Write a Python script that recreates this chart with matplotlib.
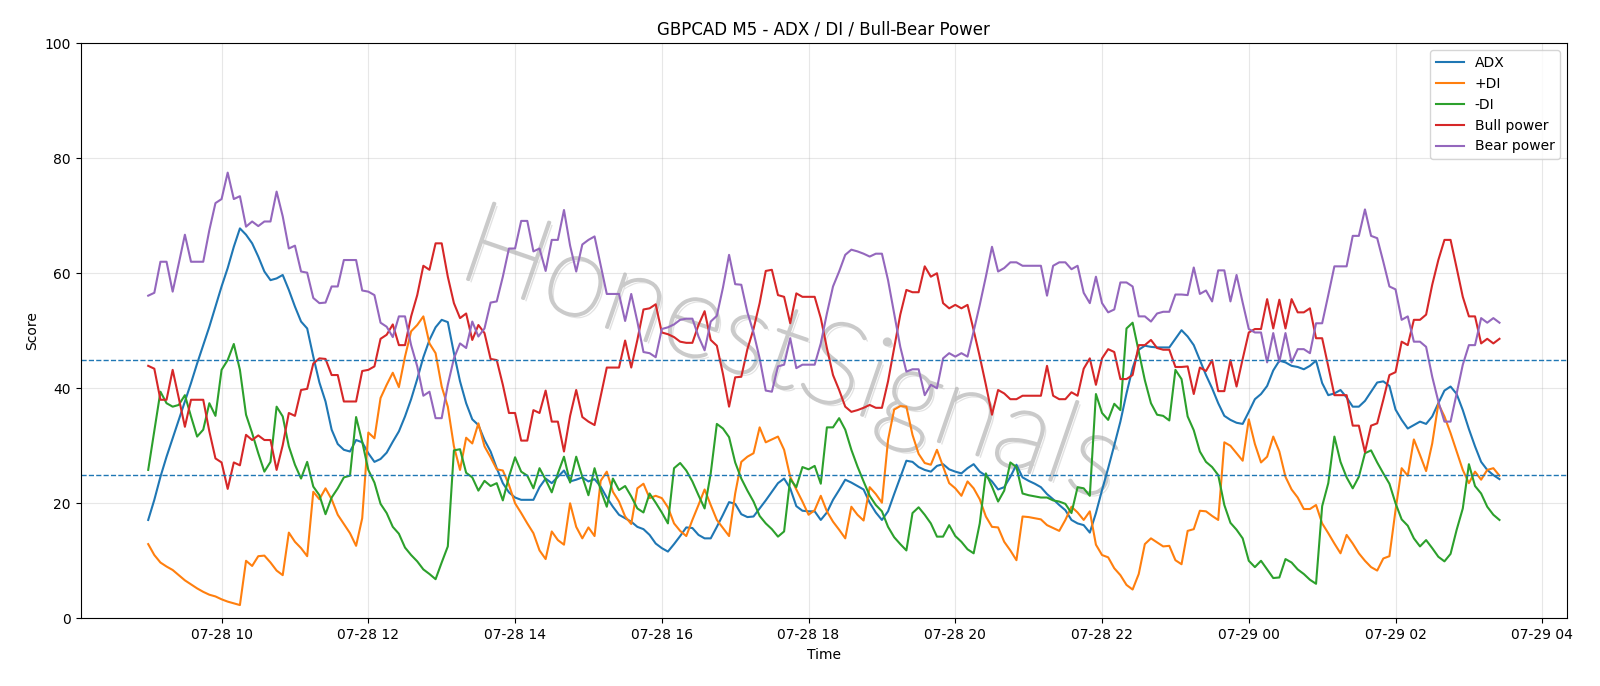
import pandas as pd
import numpy as np
import matplotlib
matplotlib.use("Agg")
import matplotlib.pyplot as plt
import matplotlib.patheffects as pe

# -----------------------------
# 1. Data (5 minute bars)
# -----------------------------
start_time = "2025-07-28 09:00"

adx = [
    17.1, 20.6, 24.6, 28.1, 31.3, 34.5, 37.7, 40.9, 44.3, 47.5,
    50.7, 54.2, 57.7, 60.9, 64.6, 67.8, 66.7, 65.2, 62.9, 60.3,
    58.8, 59.1, 59.7, 57.1, 54.2, 51.6, 50.4, 45.5, 41.0, 37.7,
    32.8, 30.3, 29.3, 29.0, 31.0, 30.6, 28.7, 27.2, 27.7, 28.8,
    30.7, 32.5, 35.1, 38.1, 41.6, 45.4, 48.4, 50.6, 51.9, 51.5,
    46.1, 41.2, 37.4, 34.6, 33.6, 31.0, 29.0, 26.1, 23.5, 21.9,
    21.0, 20.6, 20.6, 20.6, 22.8, 24.3, 23.5, 24.6, 25.7, 23.8,
    24.1, 24.5, 23.8, 24.2, 22.9, 21.0, 19.4, 18.0, 17.4, 16.8,
    15.9, 15.5, 14.5, 13.0, 12.2, 11.6, 12.9, 14.3, 15.8, 15.7,
    14.5, 13.9, 13.9, 15.9, 18.0, 20.2, 19.9, 18.1, 17.6, 17.7,
    19.1, 20.5, 22.0, 23.5, 24.3, 22.6, 19.5, 18.7, 18.6, 18.6,
    17.1, 18.4, 20.6, 22.3, 24.1, 23.6, 23.0, 22.4, 20.1, 18.4,
    17.1, 18.6, 21.6, 24.5, 27.4, 27.2, 26.3, 25.8, 25.5, 26.5,
    26.8, 25.9, 25.5, 25.2, 26.1, 26.8, 25.5, 24.8, 23.8, 22.4,
    22.8, 24.6, 26.7, 24.5, 23.9, 23.4, 22.8, 21.6, 20.7, 19.7,
    18.8, 17.1, 16.5, 16.2, 14.9, 18.3, 22.3, 26.1, 30.1, 34.2,
    39.1, 43.5, 46.7, 47.4, 47.2, 47.1, 47.1, 47.1, 48.6, 50.1,
    49.0, 47.5, 44.9, 42.3, 40.0, 37.4, 35.2, 34.5, 34.0, 33.8,
    35.9, 38.1, 39.0, 40.4, 43.1, 44.8, 44.5, 43.9, 43.7, 43.3,
    43.9, 44.8, 40.9, 38.8, 39.1, 39.7, 38.4, 36.8, 36.8, 37.8,
    39.4, 41.0, 41.2, 40.4, 36.3, 34.5, 33.0, 33.6, 34.2, 33.8,
    35.1, 37.4, 39.6, 40.3, 39.0, 36.2, 32.9, 29.9, 27.2, 25.8,
    24.9, 24.2,
]

plus_di = [
    12.9, 11.0, 9.7, 9.0, 8.4, 7.5, 6.6, 5.9, 5.2, 4.6,
    4.1, 3.8, 3.3, 2.9, 2.6, 2.3, 10.0, 9.1, 10.8, 10.9,
    9.7, 8.3, 7.5, 14.9, 13.3, 12.2, 10.8, 22.0, 20.7, 22.6,
    20.7, 18.0, 16.4, 14.8, 12.6, 17.4, 32.3, 31.3, 38.3, 40.6,
    42.7, 40.2, 45.5, 49.9, 51.0, 52.5, 47.8, 46.1, 40.3, 36.8,
    29.9, 25.8, 31.4, 30.4, 33.9, 29.9, 28.0, 25.9, 25.7, 23.2,
    20.0, 18.3, 16.5, 14.8, 11.8, 10.3, 15.1, 13.6, 12.8, 20.0,
    15.9, 13.9, 15.8, 14.3, 23.9, 25.5, 22.0, 20.3, 17.7, 16.4,
    22.6, 23.4, 20.9, 21.3, 20.9, 19.3, 16.5, 15.2, 14.3, 17.1,
    19.7, 22.4, 19.7, 17.1, 15.7, 14.3, 21.7, 27.2, 28.1, 28.7,
    33.2, 30.6, 31.1, 31.6, 29.3, 24.6, 22.4, 20.3, 18.0, 18.8,
    21.3, 18.6, 16.8, 15.4, 13.9, 19.4, 18.0, 17.0, 22.8, 21.6,
    20.1, 31.0, 36.3, 36.9, 36.8, 31.9, 28.6, 27.0, 26.7, 29.3,
    26.4, 23.5, 22.6, 21.3, 23.8, 22.6, 20.7, 17.7, 15.9, 15.8,
    13.3, 11.8, 10.1, 17.7, 17.6, 17.4, 17.2, 16.2, 15.7, 15.2,
    17.1, 19.4, 18.4, 17.1, 18.6, 12.8, 11.0, 10.6, 8.7, 7.5,
    5.8, 5.0, 7.7, 12.9, 13.9, 13.2, 12.5, 12.6, 10.1, 9.4,
    15.2, 15.5, 18.7, 18.6, 17.8, 17.1, 30.6, 30.0, 28.7, 27.4,
    34.6, 30.3, 27.1, 28.1, 31.6, 29.0, 24.6, 22.4, 21.0, 19.0,
    19.0, 19.7, 16.5, 14.8, 13.0, 11.3, 14.5, 13.0, 11.3, 10.0,
    8.9, 8.3, 10.4, 10.8, 18.8, 26.1, 24.8, 31.1, 28.4, 25.6,
    30.4, 37.3, 35.1, 32.2, 29.0, 25.8, 23.5, 25.5, 24.1, 25.8,
    26.1, 24.8,
]

minus_di = [
    25.8, 32.6, 39.4, 37.4, 36.8, 37.1, 38.8, 35.1, 31.6, 32.8,
    37.4, 35.2, 43.2, 44.9, 47.7, 43.2, 35.4, 32.2, 28.7, 25.5,
    27.2, 36.8, 35.1, 29.9, 26.7, 24.3, 27.2, 22.9, 21.4, 18.1,
    21.0, 22.6, 24.5, 24.8, 35.0, 30.7, 25.8, 23.6, 19.9, 18.3,
    15.9, 14.7, 12.3, 11.0, 9.9, 8.5, 7.7, 6.8, 9.7, 12.5,
    29.2, 29.4, 25.3, 24.5, 22.2, 23.9, 23.0, 23.5, 20.5, 24.6,
    28.0, 25.5, 24.8, 22.6, 26.1, 24.1, 21.9, 25.2, 28.1, 23.6,
    28.1, 24.6, 21.4, 26.1, 22.3, 19.4, 24.3, 22.3, 23.0, 21.2,
    19.1, 18.4, 21.7, 20.1, 18.4, 16.5, 26.1, 27.0, 25.7, 23.8,
    21.4, 19.1, 25.2, 33.8, 33.0, 31.5, 27.1, 24.3, 22.2, 20.3,
    17.8, 16.5, 15.5, 14.2, 15.1, 24.2, 22.8, 26.3, 25.9, 26.5,
    23.4, 33.2, 33.2, 34.8, 32.8, 29.3, 26.4, 23.8, 21.3, 19.7,
    18.6, 15.9, 14.1, 12.9, 11.8, 18.3, 19.3, 18.0, 16.5, 14.2,
    14.2, 16.2, 14.3, 13.3, 12.0, 11.3, 16.5, 25.2, 22.9, 20.3,
    22.2, 27.1, 26.3, 21.7, 21.4, 21.2, 21.0, 21.0, 20.5, 20.3,
    19.9, 18.3, 22.8, 22.6, 21.3, 39.0, 35.7, 34.5, 37.3, 36.2,
    50.4, 51.4, 46.4, 41.4, 37.4, 35.4, 35.2, 34.4, 43.2, 41.6,
    35.1, 32.7, 29.0, 27.2, 26.3, 24.9, 19.7, 16.6, 15.4, 13.9,
    10.0, 8.9, 10.0, 8.5, 7.0, 7.1, 10.3, 9.7, 8.5, 7.7,
    6.7, 6.0, 19.5, 23.5, 31.6, 27.2, 24.5, 22.6, 24.6, 28.7,
    29.2, 27.1, 25.2, 23.4, 20.0, 17.2, 16.1, 13.9, 12.5, 13.6,
    12.2, 10.7, 9.9, 11.2, 15.4, 19.1, 26.8, 23.0, 21.7, 19.4,
    18.0, 17.1,
]

bull_power = [
    43.9, 43.4, 38.0, 38.0, 43.2, 38.3, 33.3, 38.0, 38.0, 38.0,
    32.5, 27.8, 27.1, 22.5, 27.1, 26.6, 31.9, 31.0, 31.8, 31.0,
    31.0, 25.8, 30.1, 35.7, 35.2, 39.7, 39.9, 44.3, 45.2, 45.1,
    42.3, 42.3, 37.7, 37.7, 37.7, 43.0, 43.2, 43.8, 48.6, 49.3,
    51.1, 47.5, 47.5, 52.5, 56.2, 61.3, 60.6, 65.2, 65.2, 59.4,
    54.8, 52.2, 53.0, 48.4, 51.0, 49.6, 45.1, 44.9, 40.6, 35.7,
    35.7, 30.9, 30.9, 36.2, 35.7, 39.6, 34.2, 34.2, 29.0, 35.2,
    39.7, 35.0, 34.2, 33.6, 38.6, 43.6, 43.6, 43.6, 48.3, 43.6,
    48.4, 53.7, 53.9, 54.6, 49.7, 49.4, 48.9, 48.1, 47.9, 47.9,
    51.0, 53.4, 48.4, 47.4, 42.5, 36.8, 41.9, 42.0, 46.8, 50.3,
    54.8, 60.4, 60.6, 56.2, 55.9, 51.3, 56.5, 55.9, 55.9, 55.9,
    52.2, 47.0, 42.3, 39.7, 36.8, 35.9, 36.2, 36.6, 37.1, 36.6,
    36.6, 41.2, 47.0, 52.8, 57.1, 56.7, 56.7, 61.2, 59.4, 60.0,
    54.8, 53.9, 54.5, 53.9, 54.5, 50.1, 45.5, 40.6, 35.4, 39.7,
    39.1, 38.1, 38.1, 38.7, 38.7, 38.7, 38.7, 43.9, 38.7, 38.1,
    38.1, 39.3, 38.7, 43.4, 45.2, 40.6, 45.2, 46.8, 46.3, 41.6,
    41.6, 42.3, 47.5, 47.5, 48.4, 47.0, 46.7, 46.7, 43.7, 43.7,
    43.8, 39.0, 43.6, 43.0, 44.9, 39.5, 39.5, 44.9, 40.3, 45.1,
    49.7, 50.3, 50.3, 55.5, 50.4, 55.4, 50.4, 55.5, 53.2, 53.2,
    53.9, 48.7, 48.7, 43.8, 38.8, 38.8, 38.8, 33.5, 33.5, 28.9,
    33.5, 33.9, 38.0, 42.3, 42.8, 48.1, 47.5, 51.9, 51.9, 52.8,
    58.0, 62.3, 65.8, 65.8, 60.9, 55.9, 52.5, 52.5, 47.8, 48.6,
    47.8, 48.6,
]

bear_power = [
    56.1, 56.6, 62.0, 62.0, 56.8, 61.7, 66.7, 62.0, 62.0, 62.0,
    67.5, 72.2, 72.9, 77.5, 72.9, 73.4, 68.1, 69.0, 68.2, 69.0,
    69.0, 74.2, 69.9, 64.3, 64.8, 60.3, 60.1, 55.7, 54.8, 54.9,
    57.7, 57.7, 62.3, 62.3, 62.3, 57.0, 56.8, 56.2, 51.4, 50.7,
    48.9, 52.5, 52.5, 47.5, 43.8, 38.7, 39.4, 34.8, 34.8, 40.6,
    45.2, 47.8, 47.0, 51.6, 49.0, 50.4, 54.9, 55.1, 59.4, 64.3,
    64.3, 69.1, 69.1, 63.8, 64.3, 60.4, 65.8, 65.8, 71.0, 64.8,
    60.3, 65.0, 65.8, 66.4, 61.4, 56.4, 56.4, 56.4, 51.7, 56.4,
    51.6, 46.3, 46.1, 45.4, 50.3, 50.6, 51.1, 51.9, 52.1, 52.1,
    49.0, 46.6, 51.6, 52.6, 57.5, 63.2, 58.1, 58.0, 53.2, 49.7,
    45.2, 39.6, 39.4, 43.8, 44.1, 48.7, 43.5, 44.1, 44.1, 44.1,
    47.8, 53.0, 57.7, 60.3, 63.2, 64.1, 63.8, 63.4, 62.9, 63.4,
    63.4, 58.8, 53.0, 47.2, 42.9, 43.3, 43.3, 38.8, 40.6, 40.0,
    45.2, 46.1, 45.5, 46.1, 45.5, 49.9, 54.5, 59.4, 64.6, 60.3,
    60.9, 61.9, 61.9, 61.3, 61.3, 61.3, 61.3, 56.1, 61.3, 61.9,
    61.9, 60.7, 61.3, 56.6, 54.8, 59.4, 54.8, 53.2, 53.7, 58.4,
    58.4, 57.7, 52.5, 52.5, 51.6, 53.0, 53.3, 53.3, 56.3, 56.3,
    56.2, 61.0, 56.4, 57.0, 55.1, 60.5, 60.5, 55.1, 59.7, 54.9,
    50.3, 49.7, 49.7, 44.5, 49.6, 44.6, 49.6, 44.5, 46.8, 46.8,
    46.1, 51.3, 51.3, 56.2, 61.2, 61.2, 61.2, 66.5, 66.5, 71.1,
    66.5, 66.1, 62.0, 57.7, 57.2, 51.9, 52.5, 48.1, 48.1, 47.2,
    42.0, 37.7, 34.2, 34.2, 39.1, 44.1, 47.5, 47.5, 52.2, 51.4,
    52.2, 51.4,
]

times = pd.date_range(start_time, periods=len(adx), freq="5min")

# -----------------------------
# 2. Plot
# -----------------------------
fig, ax = plt.subplots(figsize=(16, 6.86), dpi=100)

ax.plot(times, adx, label="ADX")
ax.plot(times, plus_di, label="+DI")
ax.plot(times, minus_di, label="-DI")
ax.plot(times, bull_power, label="Bull power")
ax.plot(times, bear_power, label="Bear power")

ax.axhline(45, color="C0", linestyle="--", linewidth=1)
ax.axhline(25, color="C0", linestyle="--", linewidth=1)

ax.set_ylim(0, 100)
ax.set_title("GBPCAD M5 - ADX / DI / Bull-Bear Power")
ax.set_xlabel("Time")
ax.set_ylabel("Score")
ax.grid(True, alpha=0.3)
ax.legend(loc="upper right")

# watermark (thin grey lettering with a faint shadow, under the lines)
ax.text(0.478, 0.452, "HonestSignals", transform=ax.transAxes,
        fontsize=83, family=["Lato", "DejaVu Sans"], fontweight="light",
        color="#cacaca", zorder=1,
        rotation=-19, rotation_mode="anchor", ha="center", va="center",
        path_effects=[pe.SimplePatchShadow(offset=(2, -2), shadow_rgbFace="#a0a0a0", alpha=0.3),
                      pe.Stroke(linewidth=2.0, foreground="#cacaca"),
                      pe.Normal()])

plt.subplots_adjust(left=0.0504, right=0.9794, top=0.937, bottom=0.0987)
plt.savefig("out.png", dpi=100)
